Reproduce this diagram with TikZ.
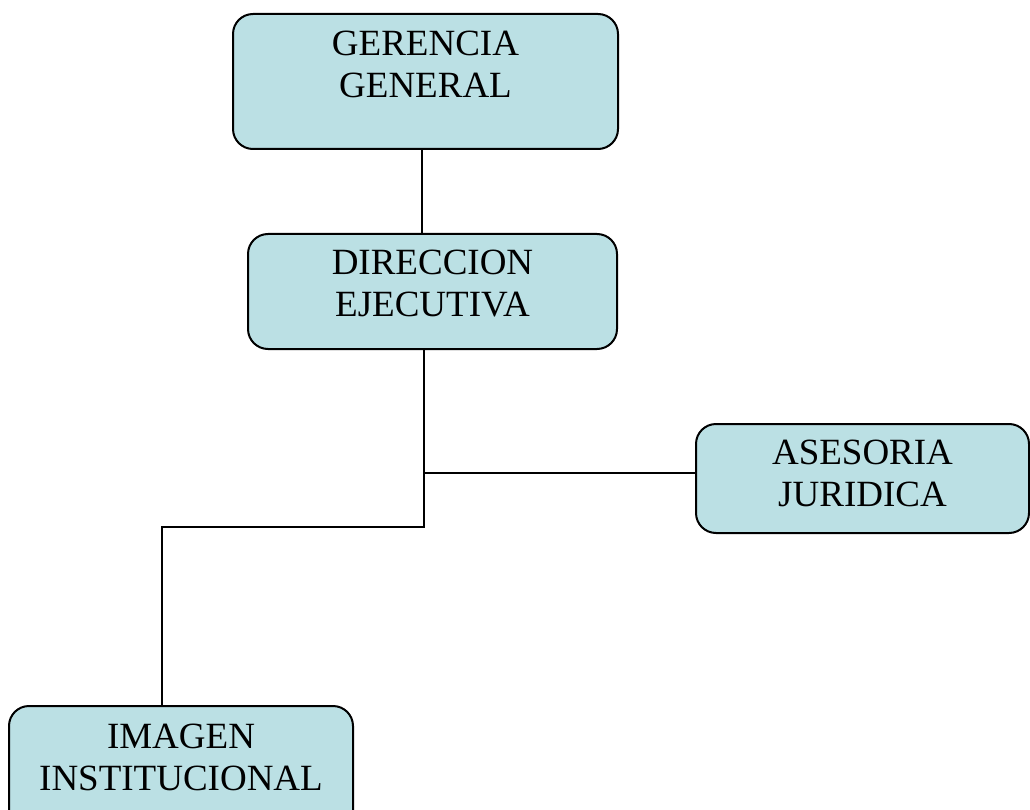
\documentclass[tikz,border=0pt]{standalone}
\usepackage{fontspec}
\setmainfont{Liberation Serif}
\usepackage{xcolor}
\definecolor{celeste}{RGB}{187,224,228}

\begin{document}
\begin{tikzpicture}[x=1pt,y=-1pt,
    caja/.style={draw=black, line width=2pt, fill=celeste, rounded corners=20pt,
        align=center, anchor=north, inner xsep=0pt, text height=67pt,
        font=\fontsize{37}{42}\selectfont},
    linea/.style={draw=black, line width=2pt}]
    % Organigrama: gerencia, direccion y sus dependencias
    \useasboundingbox (0,0) rectangle (1030,810);
    \node[caja, minimum width=385pt, inner ysep=17pt, text depth=34pt] (gerencia) at (425.5,13) {GERENCIA\\GENERAL};
    \node[caja, minimum width=369pt, inner ysep=15pt, text depth=18pt] (direccion) at (432.5,233) {DIRECCION\\EJECUTIVA};
    \node[caja, minimum width=333pt, inner ysep=15pt, text depth=12pt] (asesoria) at (862.5,423) {ASESORIA\\JURIDICA};
    \node[caja, minimum width=344pt, inner ysep=17pt, text depth=24pt] (imagen) at (181,705) {IMAGEN\\INSTITUCIONAL};
    \coordinate (ejeA) at (422,0);
    \coordinate (ramal) at (424,473);
    \coordinate (codo) at (424,527);
    \coordinate (bajada) at (162,0);
    \draw[linea] (gerencia.south -| ejeA) -- (direccion.north -| ejeA);
    \draw[linea] (direccion.south -| codo) -- (codo) -- (codo -| bajada) -- (imagen.north -| bajada);
    \draw[linea] (ramal) -- (ramal -| asesoria.west);
\end{tikzpicture}
\end{document}
